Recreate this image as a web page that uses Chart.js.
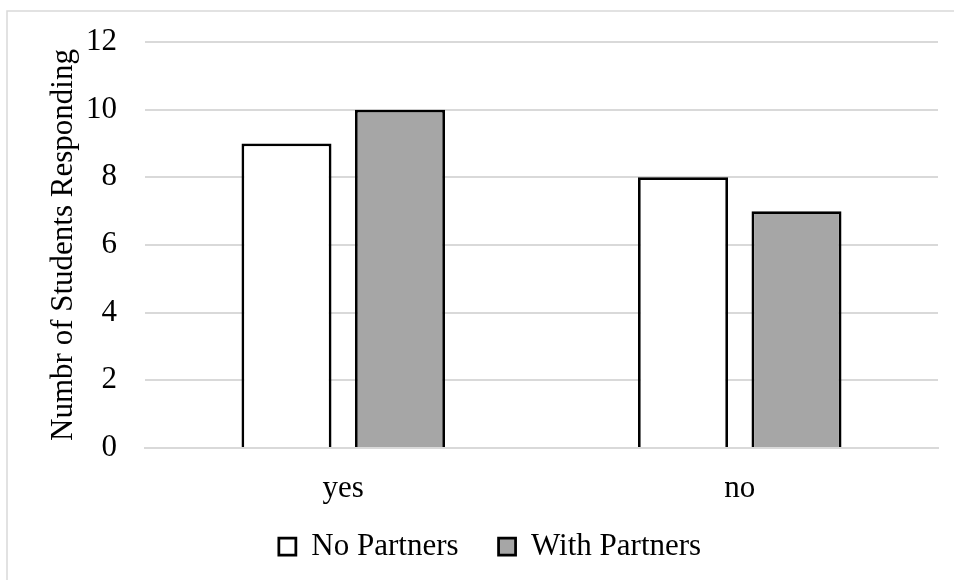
<!DOCTYPE html>
<html>
<head>
<meta charset="utf-8">
<script src="https://cdn.jsdelivr.net/npm/chart.js@4/dist/chart.umd.min.js"></script>
<style>
  html, body { margin: 0; padding: 0; background: #fff; }
  #wrap { width: 954px; height: 580px; position: relative; }
</style>
</head>
<body>
<div id="wrap"><canvas id="c" width="954" height="580"></canvas></div>
<script>
// Survey answers, split by whether students worked with partners
const categories = ['yes', 'no'];
const noPartners = [9, 8];
const withPartners = [10, 7];
const yTicks = [0, 2, 4, 6, 8, 10, 12];

const FONT = "'Liberation Serif', 'Times New Roman', serif";
const SIZE = 31;

// Light frame along the top and left edges of the figure
const framePlugin = {
  id: 'frame',
  beforeDraw(chart) {
    const ctx = chart.ctx;
    ctx.save();
    ctx.fillStyle = '#ffffff';
    ctx.fillRect(0, 0, chart.width, chart.height);
    ctx.strokeStyle = '#d9d9d9';
    ctx.lineWidth = 1.5;
    ctx.beginPath();
    ctx.moveTo(7, chart.height);
    ctx.lineTo(7, 11);
    ctx.lineTo(chart.width, 11);
    ctx.stroke();
    ctx.restore();
  }
};

// Pull the legend up closer to the category labels
const legendShift = {
  id: 'legendShift',
  afterLayout(chart) {
    const lg = chart.legend;
    if (lg) { lg.top -= 17; lg.bottom -= 17; }
  }
};

new Chart(document.getElementById('c'), {
  type: 'bar',
  data: {
    labels: categories,
    datasets: [
      {
        label: 'No Partners',
        data: noPartners,
        backgroundColor: '#ffffff',
        borderColor: '#000000',
        borderWidth: 2.75
      },
      {
        label: 'With Partners',
        data: withPartners,
        backgroundColor: '#a6a6a6',
        borderColor: '#000000',
        borderWidth: 2.75
      }
    ]
  },
  options: {
    responsive: false,
    animation: false,
    devicePixelRatio: 1,
    categoryPercentage: 0.5725,
    barPercentage: 0.793,
    layout: { padding: { top: 42, right: 16, bottom: -9, left: 42 } },
    plugins: {
      legend: {
        position: 'bottom',
        labels: {
          color: '#000',
          font: { family: FONT, size: SIZE },
          boxWidth: 17,
          boxHeight: 17,
          padding: 40
        }
      },
      tooltip: { enabled: false }
    },
    scales: {
      x: {
        grid: { display: false, drawTicks: false },
        border: { display: true, color: '#d9d9d9', width: 2 },
        ticks: {
          color: '#000',
          font: { family: FONT, size: SIZE },
          padding: 22
        },
        afterFit(scale) { scale.height = 60; }
      },
      y: {
        min: 0,
        max: 12,
        afterBuildTicks(scale) {
          scale.ticks = yTicks.map(v => ({ value: v }));
        },
        grid: { color: '#d9d9d9', lineWidth: 2, drawTicks: false },
        border: { display: false },
        ticks: {
          color: '#000',
          font: { family: FONT, size: SIZE },
          padding: 28
        },
        title: {
          display: true,
          text: 'Numbr of Students Responding',
          color: '#000',
          font: { family: FONT, size: SIZE },
          padding: { top: 3, bottom: 0 }
        },
        afterFit(scale) {
          scale.width = 103;
          scale.paddingTop = 0;
          scale.paddingBottom = 0;
        }
      }
    }
  },
  plugins: [framePlugin, legendShift]
});
</script>
</body>
</html>
